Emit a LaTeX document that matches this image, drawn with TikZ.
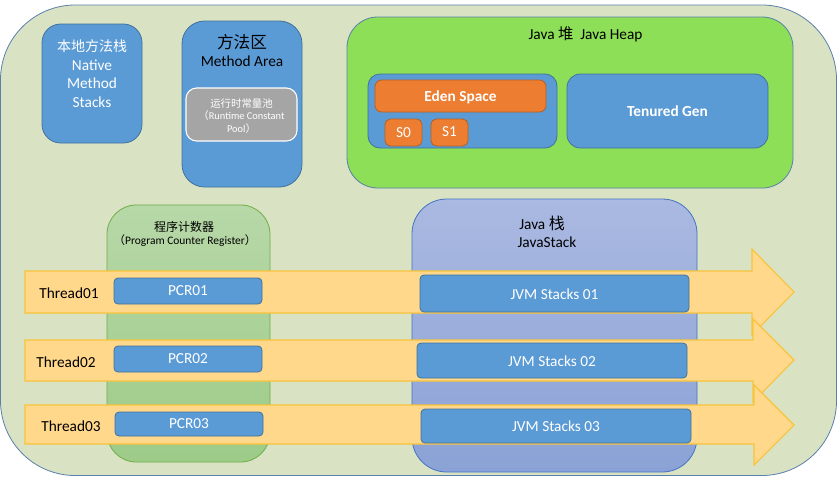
\documentclass[tikz,border=0pt]{standalone}
\usepackage{fontspec}
\setmainfont{Carlito}
\newfontfamily\cjk{Noto Sans CJK SC}
\definecolor{bgc}{HTML}{D9E3C4}
\definecolor{bgline}{HTML}{5A7FAA}
\definecolor{blu}{HTML}{5B9BD5}
\definecolor{bluline}{HTML}{41719C}
\definecolor{heapg}{HTML}{8CDF56}
\definecolor{ora}{HTML}{ED7D31}
\definecolor{oraline}{HTML}{B6601F}
\definecolor{poolg}{HTML}{A5A5A5}
\definecolor{pcrtop}{HTML}{B7D8A8}
\definecolor{pcrbot}{HTML}{9DCB88}
\definecolor{pcrline}{HTML}{70AD47}
\definecolor{jstop}{HTML}{AAB9E1}
\definecolor{jsbot}{HTML}{8BA2D6}
\definecolor{jsline}{HTML}{4472C4}
\definecolor{arrf}{HTML}{FFD88C}
\definecolor{arrl}{HTML}{F8C33A}
\tikzset{
  x=0.75pt, y=-0.75pt,
  bluebox/.style={draw=bluline, fill=blu, line width=0.6pt},
  orabox/.style={draw=oraline, fill=ora, line width=0.6pt},
  thread/.style={draw=arrl, fill=arrf, line width=0.8pt, line join=miter},
  wtxt/.style={text=white, align=center, inner sep=0pt},
  btxt/.style={text=black, align=center, inner sep=0pt},
  fnorm/.style={font=\fontsize{11.5}{14}\selectfont},
}
\begin{document}
\begin{tikzpicture}
\useasboundingbox (0,0) rectangle (839,476);
% outer background
\draw[fill=bgc, draw=bgline, line width=0.6pt, rounded corners=56pt] (0.5,5) rectangle (836.5,475.5);

% Native method stacks
\draw[bluebox, rounded corners=14pt] (42,24) rectangle (142,143);
\node[wtxt, fnorm] (nms) at (92,73.5) {{\cjk\fontsize{10.5}{14}\selectfont 本地方法栈}\\Native\\Method\\Stacks};

% Method area
\draw[bluebox, rounded corners=17pt] (182,21) rectangle (302,187);
\node[btxt] (ma1) at (242,42) {\cjk\fontsize{12.5}{14}\selectfont 方法区};
\node[btxt, fnorm] (ma2) at (242,61) {Method Area};
\draw[draw=white, fill=poolg, line width=0.8pt, rounded corners=8pt] (186,88) rectangle (297,141);
\node[wtxt, font=\fontsize{7.8}{9.3}\selectfont] (pool) at (241.5,116) {{\cjk 运行时常量池}\\{\cjk （}Runtime Constant\\Pool{\cjk ）}};

% Java heap
\draw[draw=bgline, fill=heapg, line width=0.6pt, rounded corners=23pt] (347,17) rectangle (793,188);
\node[btxt, fnorm] (heap) at (585.5,34) {Java {\cjk\fontsize{11.5}{14}\selectfont 堆}\ \ Java Heap};
\draw[bluebox, rounded corners=9pt] (368,74) rectangle (557,148);
\draw[orabox, rounded corners=5pt] (375,80) rectangle (546,112);
\node[wtxt, font=\fontsize{11.5}{14}\selectfont\bfseries] (eden) at (460.5,97) {Eden Space};
\draw[orabox, rounded corners=4pt] (385,119) rectangle (422,146);
\node[wtxt, fnorm] (s0) at (403.5,133) {S0};
\draw[orabox, rounded corners=4pt] (431,119) rectangle (468,146);
\node[wtxt, fnorm] (s1) at (449.5,132) {S1};
\draw[bluebox, rounded corners=10pt] (567,74) rectangle (768,148);
\node[wtxt, font=\fontsize{11.5}{14}\selectfont\bfseries] (ten) at (667.5,111) {Tenured Gen};

% Program counter register column
\draw[draw=pcrline, top color=pcrtop, bottom color=pcrbot, line width=0.6pt, rounded corners=22pt] (107,205) rectangle (270,462);
\node[btxt] (pc1) at (184,227) {\cjk\fontsize{9}{11}\selectfont 程序计数器};
\node[btxt, font=\fontsize{8.6}{11}\selectfont] (pc2) at (185,241) {{\cjk （}Program Counter Register{\cjk ）}};

% Java stack column
\draw[draw=jsline, top color=jstop, bottom color=jsbot, line width=0.6pt, rounded corners=26pt] (412,199) rectangle (697,472);
\node[btxt, fnorm] (js1) at (542,223) {Java {\cjk\fontsize{12}{14}\selectfont 栈}};
\node[btxt, fnorm] (js2) at (547,242) {JavaStack};

% Thread 1
\path[thread] (25,271) -- (752,271) -- (752,249) -- (794,292) -- (752,335) -- (752,313) -- (25,313) -- cycle;
\node[btxt, fnorm] (t1) at (69,293) {Thread01};
\draw[bluebox, rounded corners=3pt] (114,278) rectangle (262,304);
\node[wtxt, fnorm] (pcr1) at (188,291) {PCR01};
\draw[bluebox, rounded corners=3pt] (420,275) rectangle (689,312);
\node[wtxt, fnorm] (jvm1) at (554.5,294) {JVM Stacks 01};

% Thread 2
\path[thread] (25,340) -- (753,340) -- (753,319) -- (794,360) -- (753,402) -- (753,381) -- (25,381) -- cycle;
\node[btxt, fnorm] (t2) at (66,362) {Thread02};
\draw[bluebox, rounded corners=3pt] (114,346) rectangle (262,372);
\node[wtxt, fnorm] (pcr2) at (188,359) {PCR02};
\draw[bluebox, rounded corners=3pt] (417,343) rectangle (687,378);
\node[wtxt, fnorm] (jvm2) at (552,361) {JVM Stacks 02};

% Thread 3
\path[thread] (25,405) -- (754,405) -- (754,385) -- (794,425) -- (754,465) -- (754,444) -- (25,444) -- cycle;
\node[btxt, fnorm] (t3) at (71,426) {Thread03};
\draw[bluebox, rounded corners=3pt] (115,412) rectangle (263,436);
\node[wtxt, fnorm] (pcr3) at (189,424) {PCR03};
\draw[bluebox, rounded corners=3pt] (421,409) rectangle (691,443);
\node[wtxt, fnorm] (jvm3) at (556,426) {JVM Stacks 03};
\end{tikzpicture}
\end{document}
